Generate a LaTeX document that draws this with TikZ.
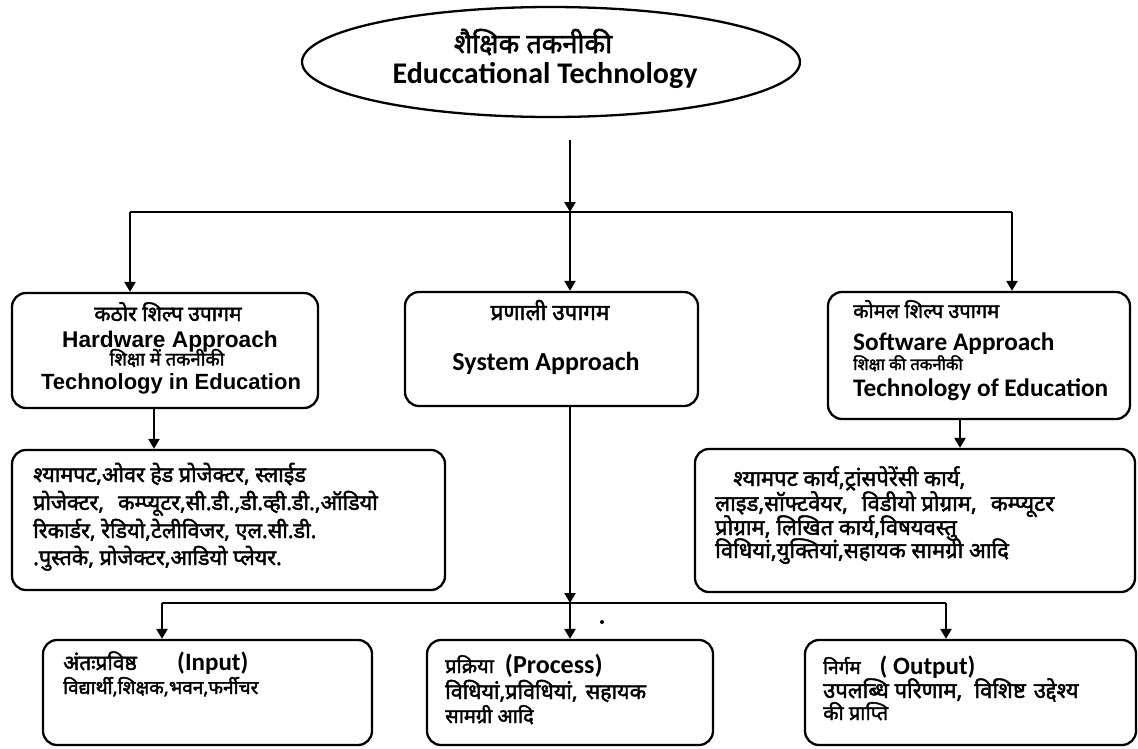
\documentclass[tikz,border=0pt]{standalone}
\usepackage{fontspec}
\setmainfont{Carlito}
\newfontfamily\hinfont[Script=Devanagari,FakeBold=2]{Noto Sans}
\newfontfamily\calfont{Carlito}
\newfontfamily\arifont{Liberation Sans}
\usetikzlibrary{shapes.geometric,arrows.meta}
\newcommand\myfs[1]{\fontsize{#1}{#1}\selectfont}
\tikzset{
  box/.style={draw, line width=2.3pt, rounded corners=14pt, inner sep=0, rectangle},
  ln/.style={line width=2.3pt},
  arr/.style={line width=2.3pt, -{Triangle[width=11pt,length=10pt]}},
  tx/.style={inner sep=0, anchor=base west},
  txc/.style={inner sep=0, anchor=base},
  hi/.style={font=\hinfont\myfs{#1}},
  en/.style={font=\calfont\bfseries\myfs{#1}},
  ar/.style={font=\arifont\bfseries\myfs{#1}}
}
\begin{document}
\begin{tikzpicture}[x=1pt,y=-1pt]
\useasboundingbox (0,0) rectangle (1138,748);
% top ellipse
\node[draw, ellipse, line width=2.3pt, minimum width=498pt, minimum height=110pt, inner sep=0] (top) at (551,62) {};
\node[txc, hi=27] (topa) at (533,53) {शैक्षिक तकनीकी};
\node[txc, en=30] (topb) at (545,83) {Educcational Technology};
% level 1 boxes
\node[box, minimum width=306pt, minimum height=115pt] (hw) at (165,350.5) {};
\node[box, minimum width=293pt, minimum height=114pt] (sys) at (551.5,349) {};
\node[box, minimum width=302pt, minimum height=127pt] (sw) at (979,355.5) {};
\node[txc, hi=21] (hwa) at (168,321) {कठोर शिल्प उपागम};
\node[txc, ar=22.7] (hwb) at (170,347) {Hardware Approach};
\node[txc, hi=18.5] (hwc) at (167,365.5) {शिक्षा में तकनीकी};
\node[txc, ar=22] (hwd) at (171,389) {Technology in Education};
\node[txc, hi=22.5] (sysa) at (550,320) {प्रणाली उपागम};
\node[txc, en=26] (sysb) at (546,370) {System Approach};
\node[tx, hi=20] (swa) at (853,318) {कोमल शिल्प उपागम};
\node[tx, en=25.3] (swb) at (853,350) {Software Approach};
\node[tx, hi=16.5] (swc) at (853,370) {शिक्षा की तकनीकी};
\node[tx, en=25.3] (swd) at (853,396) {Technology of Education};
% level 2 boxes
\node[box, minimum width=433pt, minimum height=140pt] (hwl) at (228.5,520) {};
\node[box, minimum width=440pt, minimum height=143pt] (swl) at (915,520.5) {};
\node[tx, hi=21.5] (hwl1) at (33,482) {श्यामपट,ओवर हेड प्रोजेक्टर, स्लाईड};
\node[tx, hi=21.5] (hwl2) at (33,510) {प्रोजेक्टर,\hspace{14pt}कम्प्यूटर,सी.डी.,डी.व्ही.डी.,ऑडियो};
\node[tx, hi=21.5] (hwl3) at (33,538) {रिकार्डर, रेडियो,टेलीविजर, एल.सी.डी.};
\node[tx, hi=21.5] (hwl4) at (33,565) {.पुस्तके, प्रोजेक्टर,आडियो प्लेयर.};
\node[tx, hi=22] (swl1) at (733,486) {श्यामपट कार्य,ट्रांसपेरेंसी कार्य,};
\node[tx, hi=22] (swl2) at (715,511) {लाइड,सॉफ्टवेयर,\hspace{14pt}विडीयो प्रोग्राम,\hspace{14pt}कम्प्यूटर};
\node[tx, hi=22] (swl3) at (715,535) {प्रोग्राम, लिखित कार्य,विषयवस्तु};
\node[tx, hi=22] (swl4) at (715,558) {विधियां,युक्तियां,सहायक सामग्री आदि};
% level 3 boxes
\node[box, minimum width=329pt, minimum height=105pt] (inp) at (207.5,692.5) {};
\node[box, minimum width=286pt, minimum height=105pt] (proc) at (570,692.5) {};
\node[box, minimum width=331pt, minimum height=105pt] (out) at (970.5,692.5) {};
\node[tx, hi=21] (inpa) at (63,670) {अंतःप्रविष्ठ};
\node[tx, en=25] (inpb) at (177,670) {(Input)};
\node[tx, hi=19] (inpc) at (63,694) {विद्यार्थी,शिक्षक,भवन,फर्नीचर};
\node[tx, hi=20] (proca) at (445,673) {प्रक्रिया {\calfont\bfseries\myfs{26} (Process)}};
\node[tx, hi=21.5] (procb) at (445,699) {विधियां,प्रविधियां,\hspace{8pt}सहायक};
\node[tx, hi=20] (procc) at (445,723) {सामग्री आदि};
\node[tx, hi=19] (outa) at (823,674) {निर्गम\quad{\calfont\bfseries\myfs{25}( Output)}};
\node[tx, hi=22] (outb) at (823,698) {उपलब्धि परिणाम,\hspace{12pt}विशिष्ट\hspace{8pt}उद्देश्य};
\node[tx, hi=20] (outc) at (823,720) {की प्राप्ति};
% connectors
\coordinate (s0) at (570,140);
\coordinate (j0) at (570,212);
\coordinate (jl) at (130,212);
\coordinate (jr) at (1012,212);
\draw[arr] (s0) -- (j0);
\draw[ln] (jl) -- (jr);
\draw[arr] (jl) -- (jl |- hw.north);
\draw[arr] (j0) -- (j0 |- sys.north);
\draw[arr] (jr) -- (jr |- sw.north);
\coordinate (h0) at (154,0);
\draw[arr] (h0 |- hw.south) -- (h0 |- hwl.north);
\coordinate (w0) at (960,0);
\draw[arr] (w0 |- sw.south) -- (w0 |- swl.north);
\coordinate (k0) at (570,603);
\coordinate (kl) at (162,603);
\coordinate (kr) at (946,603);
\draw[arr] (k0 |- sys.south) -- (k0);
\draw[ln] (kl) -- (kr);
\draw[arr] (kl) -- (kl |- inp.north);
\draw[arr] (k0) -- (k0 |- proc.north);
\draw[arr] (kr) -- (kr |- out.north);
\fill (602,622) circle (2pt);
\end{tikzpicture}
\end{document}
